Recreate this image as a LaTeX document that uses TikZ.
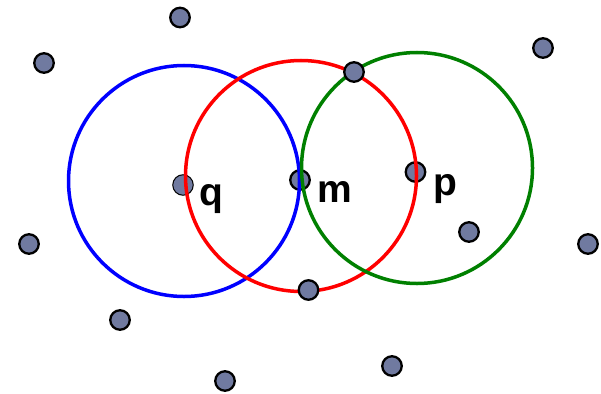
\documentclass[tikz,border=0pt]{standalone}
\usepackage{fontspec}
\setmainfont{Liberation Sans}
\usetikzlibrary{positioning}
\definecolor{pntcol}{RGB}{112,122,160}
\definecolor{ringgreen}{RGB}{0,128,0}

\begin{document}
\begin{tikzpicture}[
  x=1pt, y=-1pt,
  pnt/.style={circle, draw=black, line width=2.3pt, fill=pntcol, inner sep=0pt, minimum size=19.5pt},
  pntq/.style={pnt, line width=1pt, minimum size=20.5pt},
  lbl/.style={anchor=base west, inner sep=0pt, font=\fontsize{39}{41}\selectfont\bfseries},
  ring/.style={line width=3.5pt},
]
\useasboundingbox (0,0) rectangle (601,393);

% centres of the three circles
\coordinate (cq) at (184,181);
\coordinate (cm) at (301,176);
\coordinate (cp) at (417,168);

% the three labelled points sit under the circles
\node[pntq] (q) at (183,185) {};
\node[pnt]  (m) at (300,180) {};
\node[pnt]  (p) at (415.5,172) {};

\draw[ring, blue]       (cq) circle (115.5);
\draw[ring, red]        (cm) circle (115.5);
\draw[ring, ringgreen]  (cp) circle (115.5);

\node[lbl] (lq) at (199,205) {q};
\node[lbl] (lm) at (317,202) {m};
\node[lbl] (lp) at (433,195) {p};

% remaining points
\node[pnt] (a1) at (180,17.5) {};
\node[pnt] (a2) at (44,63) {};
\node[pnt] (a3) at (543,48) {};
\node[pnt] (a4) at (354,72) {};
\node[pnt] (a5) at (469,232) {};
\node[pnt] (a6) at (29,244) {};
\node[pnt] (a7) at (588,244) {};
\node[pnt] (a8) at (308.5,290) {};
\node[pnt] (a9) at (120,320) {};
\node[pnt] (a10) at (392,366) {};
\node[pnt] (a11) at (225,381) {};
\end{tikzpicture}
\end{document}
